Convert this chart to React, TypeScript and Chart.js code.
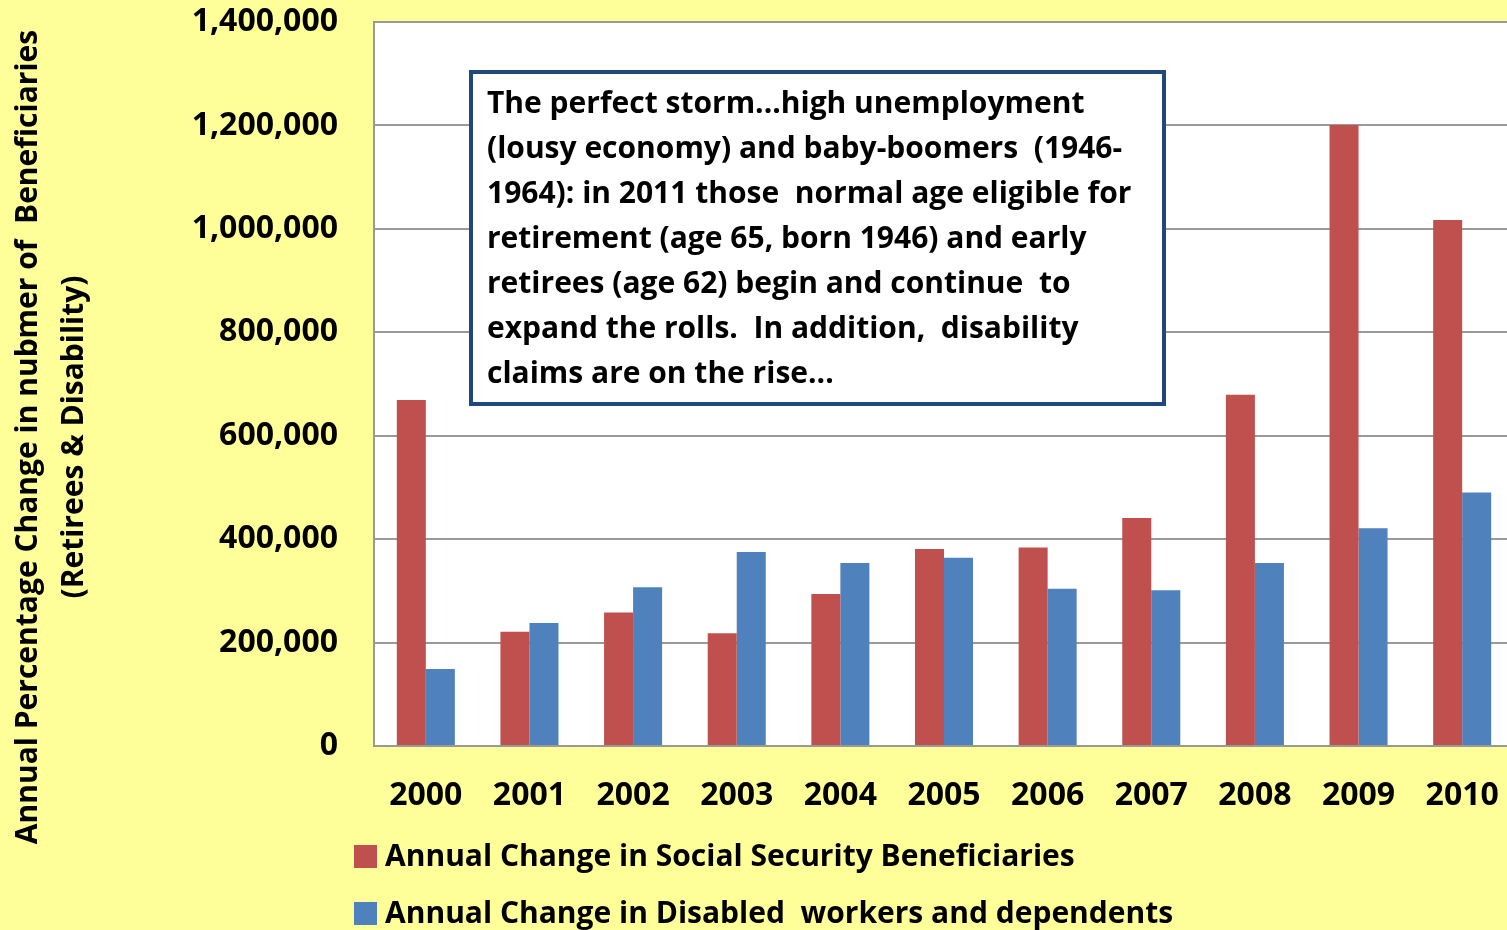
import React, { useEffect, useRef } from "react";
import { Chart, registerables } from "chart.js";

Chart.register(...registerables);

const years = ["2000", "2001", "2002", "2003", "2004", "2005", "2006", "2007", "2008", "2009", "2010"];
const socialSecurityChange = [669000, 221000, 258000, 218000, 294000, 381000, 384000, 441000, 679000, 1201000, 1017000];
const disabledChange = [149000, 238000, 307000, 375000, 354000, 364000, 304000, 301000, 354000, 421000, 490000];
const seriesLabels = [
  "Annual Change in Social Security Beneficiaries",
  "Annual Change in Disabled  workers and dependents",
];
const seriesColors = ["#C0504D", "#4F81BD"];
const yTitleLines = [
  "Annual Percentage Change in nubmer of  Beneficiaries",
  "(Retirees & Disability)",
];
const noteLines = [
  "The perfect storm...high unemployment",
  "(lousy economy) and baby-boomers  (1946-",
  "1964): in 2011 those  normal age eligible for",
  "retirement (age 65, born 1946) and early",
  "retirees (age 62) begin and continue  to",
  "expand the rolls.  In addition,  disability",
  "claims are on the rise...",
];

const FONT = "'Open Sans', Lato, sans-serif";

export default function App() {
  const ref = useRef<HTMLCanvasElement>(null);

  useEffect(() => {
    const canvas = ref.current!;
    const plotBg = {
      id: "plotBg",
      beforeDraw(chart: any) {
        const { ctx, chartArea } = chart;
        ctx.save();
        ctx.fillStyle = "#FFFFFF";
        ctx.fillRect(chartArea.left, chartArea.top, chartArea.right - chartArea.left, chartArea.bottom - chartArea.top);
        ctx.restore();
      },
    };
    const extras = {
      id: "extras",
      afterDraw(chart: any) {
        const { ctx } = chart;
        ctx.save();
        // y title
        ctx.fillStyle = "#000";
        ctx.font = `bold 30px ${FONT}`;
        ctx.textAlign = "center";
        ctx.textBaseline = "middle";
        const xs = [28, 74];
        yTitleLines.forEach((t, i) => {
          ctx.save();
          ctx.translate(xs[i], 437);
          ctx.rotate(-Math.PI / 2);
          ctx.fillText(t, 0, 0);
          ctx.restore();
        });
        // legend
        ctx.textAlign = "left";
        ctx.font = `bold 30px ${FONT}`;
        const ly = [856, 913];
        seriesLabels.forEach((t, i) => {
          ctx.fillStyle = seriesColors[i];
          ctx.fillRect(354, ly[i] - 11, 23, 23);
          ctx.fillStyle = "#000";
          ctx.fillText(t, 385, ly[i] + 1);
        });
        // annotation box
        ctx.fillStyle = "#FFFFFF";
        ctx.fillRect(471, 72, 693, 332);
        ctx.strokeStyle = "#1F497D";
        ctx.lineWidth = 4;
        ctx.strokeRect(471, 72, 693, 332);
        ctx.fillStyle = "#000";
        ctx.font = `bold 30px ${FONT}`;
        ctx.textBaseline = "middle";
        noteLines.forEach((t, i) => {
          ctx.fillText(t, 487, 104 + i * 45);
        });
        ctx.restore();
      },
    };

    const chart = new Chart(canvas, {
      type: "bar",
      data: {
        labels: years,
        datasets: [
          {
            label: seriesLabels[0],
            data: socialSecurityChange,
            backgroundColor: seriesColors[0],
            barPercentage: 1,
            categoryPercentage: 0.56,
          },
          {
            label: seriesLabels[1],
            data: disabledChange,
            backgroundColor: seriesColors[1],
            barPercentage: 1,
            categoryPercentage: 0.56,
          },
        ],
      },
      options: {
        animation: false,
        responsive: false,
        layout: { padding: { top: 22, left: 0, right: 2, bottom: 0 } },
        plugins: { legend: { display: false }, tooltip: { enabled: false } },
        scales: {
          x: {
            grid: { display: false, drawTicks: false },
            border: { display: true, color: "#999999", width: 2 },
            ticks: {
              color: "#000",
              font: { family: FONT, size: 32, weight: "bold" },
              padding: 31,
              maxRotation: 0,
              autoSkip: false,
            },
            afterFit(scale: any) {
              scale.height = 930 - 746;
              scale.paddingLeft = 0;
              scale.paddingRight = 0;
            },
          },
          y: {
            min: 0,
            max: 1400000,
            grid: { color: "#999999", lineWidth: 2, drawTicks: false },
            border: { display: true, color: "#999999", width: 2 },
            ticks: {
              stepSize: 200000,
              color: "#000",
              font: { family: FONT, size: 32, weight: "bold" },
              padding: 36,
              callback: (v: any) => Number(v).toLocaleString("en-US"),
            },
            afterFit(scale: any) {
              scale.width = 374;
              scale.paddingTop = 0;
              scale.paddingBottom = 0;
            },
          },
        },
      },
      plugins: [plotBg, extras],
    });
    return () => chart.destroy();
  }, []);

  return (
    <div
      style={{
        position: "absolute",
        left: 0,
        top: 0,
        width: 1507,
        height: 930,
        overflow: "hidden",
        background: "#FFFF99",
      }}
    >
      <canvas ref={ref} width={1516} height={930} style={{ display: "block" }} />
    </div>
  );
}
